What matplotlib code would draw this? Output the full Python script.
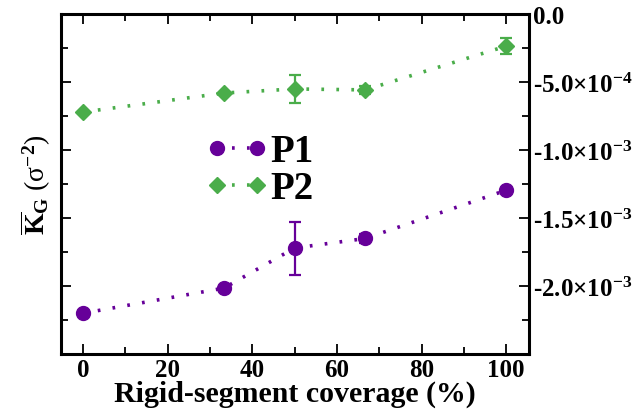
import numpy as np
import matplotlib
matplotlib.use("Agg")
import matplotlib.pyplot as plt
from matplotlib.ticker import FixedLocator, MultipleLocator

plt.rcParams['font.family'] = ['Liberation Serif', 'DejaVu Serif']
plt.rcParams['font.weight'] = 'bold'
plt.rcParams['mathtext.fontset'] = 'custom'
plt.rcParams['mathtext.rm'] = 'Liberation Serif:bold'
plt.rcParams['mathtext.bf'] = 'Liberation Serif:bold'
plt.rcParams['mathtext.it'] = 'Liberation Serif:italic:bold'

# data
coverage = [0, 33.3, 50, 66.7, 100]
p1_kg = [-2.20e-3, -2.015e-3, -1.72e-3, -1.65e-3, -1.295e-3]
p1_err = [0.0, 0.0, 0.195e-3, 0.03e-3, 0.0]
p2_kg = [-0.72e-3, -0.58e-3, -0.55e-3, -0.557e-3, -0.235e-3]
p2_err = [0.0, 0.0, 0.10e-3, 0.03e-3, 0.06e-3]

x_ticks = [0, 20, 40, 60, 80, 100]
y_ticks = [0.0, -5.0e-4, -1.0e-3, -1.5e-3, -2.0e-3]
y_tick_labels = [r'0.0', r'-5.0$\times$10$^{\mathrm{-4}}$', r'-1.0$\times$10$^{\mathrm{-3}}$',
                 r'-1.5$\times$10$^{\mathrm{-3}}$', r'-2.0$\times$10$^{\mathrm{-3}}$']

purple = '#660099'
green = '#4aad4a'

fig = plt.figure(figsize=(6.36, 4.10), dpi=100)
ax = fig.add_axes([0.0959, 0.134, 0.7359, 0.829])

dots = (0, (0.75, 3.4))
ax.errorbar(coverage, p1_kg, yerr=p1_err, color=purple, marker='o', ms=10,
            ls=dots, lw=2.6, elinewidth=1.6, capsize=4, capthick=1.6, label='P1')
ax.errorbar(coverage, p2_kg, yerr=p2_err, color=green, marker='D', ms=8.5,
            ls=dots, lw=2.6, elinewidth=1.6, capsize=4, capthick=1.6, label='P2')

ax.set_xlim(-5.2, 105.4)
ax.set_ylim(-2.5e-3, 0.0)
ax.xaxis.set_major_locator(FixedLocator(x_ticks))
ax.xaxis.set_minor_locator(MultipleLocator(10))
ax.yaxis.set_major_locator(FixedLocator(y_ticks))
ax.set_yticklabels(y_tick_labels)
ax.yaxis.set_minor_locator(MultipleLocator(2.5e-4))

for s in ax.spines.values():
    s.set_linewidth(2.2)
ax.tick_params(which='both', direction='in', top=True, right=True, left=True,
               labelleft=False, labelright=True, width=1.3)
ax.tick_params(which='major', length=7.5, labelsize=18, pad=3)
ax.tick_params(which='minor', length=5)
for t in ax.get_xticklabels() + ax.get_yticklabels():
    t.set_fontweight('bold')

ax.set_xlabel('Rigid-segment coverage (%)', fontsize=21.5, fontweight='bold', labelpad=-1)
ax.set_ylabel(r'$\overline{\mathrm{K}}_{\mathrm{G}}$ (σ$^{\mathrm{-2}}$)', fontsize=20,
              fontweight='normal', labelpad=6)

handles, labels = ax.get_legend_handles_labels()
handles = [h[0] for h in handles]
leg = ax.legend(handles, labels, loc='center left', bbox_to_anchor=(0.308, 0.541),
                frameon=False, numpoints=2, handlelength=1.63, handletextpad=0.05,
                labelspacing=0.0, borderpad=0, borderaxespad=0,
                prop={'family': 'Liberation Serif', 'weight': 'bold', 'size': 28})

fig.savefig('out.png', dpi=100)
